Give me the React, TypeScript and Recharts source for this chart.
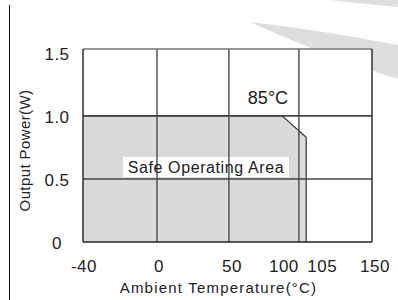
import React from "react";
import {
  AreaChart,
  Area,
  XAxis,
  YAxis,
  CartesianGrid,
  ReferenceLine,
  ReferenceArea,
  ReferenceDot,
  Label,
} from "recharts";

// derating curve
const temps = [-40, 88, 105, 105];
const power = [1.0, 1.0, 0.83, 0];

const xTicks = [-40, 0, 50, 100, 105, 150];
const yTicks = [0, 0.5, 1.0, 1.5];
const xGrid = [0, 50, 100];
const yGrid = [0.5, 1.0];

// the printed temperature axis is not linear: where each knot sits along it (0..1)
const axisKnots = [-40, 0, 50, 100, 150];
const axisFracs = [0, 0.256, 0.505, 0.747, 1];

const rows = temps.map((t, i) => ({ t, p: power[i] }));

const FONT = '"Liberation Sans", Arial, Helvetica, sans-serif';
const INK = "#222";

function makeTempScale(): any {
  let dom = [axisKnots[0], axisKnots[axisKnots.length - 1]];
  let rng = [0, 1];
  const s: any = (v: number) => {
    let i = 1;
    while (i < axisKnots.length - 1 && v > axisKnots[i]) i++;
    const k0 = axisKnots[i - 1];
    const k1 = axisKnots[i];
    const f =
      axisFracs[i - 1] + ((v - k0) / (k1 - k0)) * (axisFracs[i] - axisFracs[i - 1]);
    return rng[0] + f * (rng[1] - rng[0]);
  };
  s.domain = (d?: number[]) => {
    if (d === undefined) return dom.slice();
    dom = d.slice();
    return s;
  };
  s.range = (r?: number[]) => {
    if (r === undefined) return rng.slice();
    rng = r.slice();
    return s;
  };
  s.copy = () => makeTempScale().domain(dom).range(rng);
  s.ticks = () => xTicks;
  s.clamp = () => s;
  s.invert = (px: number) => {
    const f = (px - rng[0]) / (rng[1] - rng[0]);
    let i = 1;
    while (i < axisFracs.length - 1 && f > axisFracs[i]) i++;
    return (
      axisKnots[i - 1] +
      ((f - axisFracs[i - 1]) / (axisFracs[i] - axisFracs[i - 1])) *
        (axisKnots[i] - axisKnots[i - 1])
    );
  };
  return s;
}

const tempScale = makeTempScale();

// the 100 / 105 labels are pushed apart on the original
const xLabelShift: Record<number, number> = { [-40]: 1, 0: 2, 50: 3, 100: -15, 105: 16, 150: 3 };

function TempTick(props: any) {
  const { x, y, payload } = props;
  const v = payload.value;
  return (
    <text
      x={x + (xLabelShift[v] ?? 0)}
      y={y + 30}
      textAnchor="middle"
      fontSize={17}
      letterSpacing={0.5}
      fill={INK}
    >
      {v}
    </text>
  );
}

function PowerTick(props: any) {
  const { x, y, payload } = props;
  const v = payload.value;
  return (
    <text x={x - 26} y={y + 7} textAnchor="middle" fontSize={17} letterSpacing={0.5} fill={INK}>
      {v === 0 ? "0" : v.toFixed(1)}
    </text>
  );
}

function XTitle(props: any) {
  const vb = props.viewBox;
  return (
    <text
      x={vb.x + vb.width / 2 - 9}
      y={vb.y + 51}
      textAnchor="middle"
      fontSize={15}
      letterSpacing={1.2}
      fill={INK}
    >
      Ambient Temperature(°C)
    </text>
  );
}

function YTitle(props: any) {
  const vb = props.viewBox;
  const cx = 30;
  const cy = vb.y + vb.height / 2 + 5;
  return (
    <text
      x={cx}
      y={cy}
      transform={`rotate(-90 ${cx} ${cy})`}
      textAnchor="middle"
      fontSize={15}
      letterSpacing={0.4}
      fill={INK}
    >
      Output Power(W)
    </text>
  );
}

export default function App() {
  return (
    <div
      style={{
        position: "fixed",
        left: 0,
        top: 0,
        width: 398,
        height: 300,
        background: "#fff",
        fontFamily: FONT,
        overflow: "hidden",
      }}
    >
      {/* page decoration behind the chart */}
      <svg width={398} height={300} style={{ position: "absolute", left: 0, top: 0 }}>
        <path d="M330 0 L398 0 L398 7 Q365 4 330 0 Z" fill="#dedede" />
        <path d="M250 22 Q320 30 398 45 L398 79 Q330 58 250 22 Z" fill="#dedede" />
        <line x1={9.5} y1={5} x2={9.5} y2={300} stroke="#111" strokeWidth={1} />
      </svg>

      <div style={{ position: "absolute", left: 0, top: 0 }}>
        <AreaChart
          width={398}
          height={300}
          data={rows}
          margin={{ top: 49, right: 26, bottom: 0, left: 0 }}
        >
          <CartesianGrid fill="#fff" stroke="none" horizontal={false} vertical={false} />
          <XAxis
            dataKey="t"
            type="number"
            scale={tempScale}
            domain={[-40, 150]}
            ticks={xTicks}
            interval={0}
            tick={(p: any) => <TempTick {...p} />}
            tickLine={false}
            tickSize={0}
            tickMargin={0}
            axisLine={{ stroke: INK, strokeWidth: 1.4 }}
            height={58}
          >
            <Label content={(p: any) => <XTitle {...p} />} />
          </XAxis>
          <YAxis
            type="number"
            domain={[0, 1.53]}
            ticks={yTicks}
            interval={0}
            tick={(p: any) => <PowerTick {...p} />}
            tickLine={false}
            tickSize={0}
            tickMargin={0}
            axisLine={{ stroke: INK, strokeWidth: 1.4 }}
            width={83}
          >
            <Label content={(p: any) => <YTitle {...p} />} />
          </YAxis>

          <Area
            type="linear"
            dataKey="p"
            stroke="#333"
            strokeWidth={1.2}
            fill="#dadada"
            fillOpacity={1}
            baseValue={0}
            dot={false}
            activeDot={false}
            isAnimationActive={false}
          />

          <ReferenceArea
            x1={-18.4}
            x2={92.9}
            y1={0.515}
            y2={0.674}
            fill="#fff"
            fillOpacity={1}
            stroke="none"
            label={{
              value: "Safe Operating Area",
              position: "center",
              fontSize: 16,
              fill: INK,
              letterSpacing: 0.6,
            }}
          />
          <ReferenceDot
            x={77.9}
            y={1.146}
            r={0}
            fill="none"
            stroke="none"
            label={{ value: "85°C", position: "center", fontSize: 18, fill: INK }}
          />

          {xGrid.map((v) => (
            <ReferenceLine key={`vx-${v}`} x={v} stroke="#555" strokeWidth={1.5} ifOverflow="visible" />
          ))}
          {yGrid.map((v) => (
            <ReferenceLine key={`hy-${v}`} y={v} stroke="#444" strokeWidth={1.6} ifOverflow="visible" />
          ))}
          <ReferenceLine y={1.53} stroke="#777" strokeWidth={1.4} ifOverflow="visible" />
          <ReferenceLine x={150} stroke={INK} strokeWidth={1.4} ifOverflow="visible" />
        </AreaChart>
      </div>
    </div>
  );
}
